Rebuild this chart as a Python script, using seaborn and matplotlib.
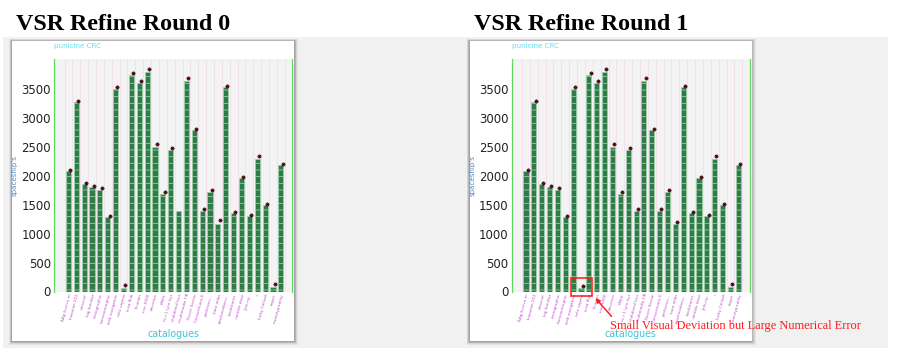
import numpy as np
import pandas as pd
import matplotlib
matplotlib.use("Agg")
import matplotlib.pyplot as plt
import seaborn as sns
from matplotlib.patches import Rectangle

# ---------------- data ----------------
categories = [
    "ΔΔg fvccvu m", "lnoanlan ΣΣΣ", "unavnel", "big familiar", "cartographic",
    "homeomorphic", "web navigation", "refu cepmo", "scxa flub", "illconan",
    "one 3000", "decortex", "plopy", "m-r 1 lyrn hyr", "clubdonal bus",
    "multimedia CA", "Dover Sector", "Consortiums E", "preferenc...", "bare atlas",
    "arachnoidocu...", "bookstores", "ramble dose", "Jerk-ny...", "*",
    "lucky Collusk", "rogue", "monotypicality",
]
round0_bars = [2087, 3280, 1862, 1805, 1759, 1286, 3505, 57, 3747, 3604,
               3804, 2502, 1695, 2445, 1395, 3643, 2788, 1395, 1724, 1176,
               3545, 1356, 1960, 1309, 2300, 1499, 81, 2186]
round0_dots = [2110, 3300, 1885, 1833, 1788, 1304, 3545, 116, 3787, 3643,
               3851, 2549, 1724, 2480, np.nan, 3695, 2810, 1425, 1753, 1234,
               3560, 1375, 1985, 1330, 2341, 1512, 128, 2200]
round1_bars = [2087, 3280, 1862, 1805, 1759, 1286, 3505, 57, 3747, 3604,
               3804, 2502, 1695, 2445, 1395, 3643, 2788, 1395, 1724, 1176,
               3545, 1356, 1960, 1309, 2300, 1499, 81, 2186]
round1_dots = [2110, 3300, 1885, 1833, 1788, 1304, 3545, 92, 3787, 3643,
               3851, 2549, 1724, 2480, 1420, 3695, 2810, 1425, 1753, 1210,
               3560, 1375, 1985, 1330, 2341, 1512, 128, 2200]
titles = ["VSR Refine Round 0", "VSR Refine Round 1"]
y_ticks = [0, 500, 1000, 1500, 2000, 2500, 3000, 3500]
annotation_text = "Small Visual Deviation but Large Numerical Error"

# ---------------- setup ----------------
W, H, DPI = 897, 362, 80
sns.set_theme(style="white")
plt.rcParams["font.family"] = ["DejaVu Sans"]
plt.rcParams["hatch.linewidth"] = 0.7

fig = plt.figure(figsize=(W / DPI, H / DPI), dpi=DPI)
fig.patch.set_facecolor("white")


def frect(x0, y0, x1, y1):
    return [x0 / W, 1 - y1 / H, (x1 - x0) / W, (y1 - y0) / H]


bg = fig.add_axes([0, 0, 1, 1])
bg.set_xlim(0, W)
bg.set_ylim(H, 0)
bg.axis("off")
bg.add_patch(Rectangle((3, 37), 885, 311, facecolor="#f1f1f1", lw=0))

panels = [(0.0, round0_bars, round0_dots), (457.5, round1_bars, round1_dots)]
n = len(categories)

for k, (dx, bars, dots) in enumerate(panels):
    # panel shadow + white card
    for s, a in [(5, 0.05), (4, 0.06), (3, 0.07), (2, 0.08), (1, 0.1)]:
        bg.add_patch(Rectangle((12 + dx - s * 0.6, 41 - s * 0.4), 282 + s * 1.4, 300 + s * 1.2,
                               facecolor="black", alpha=a, lw=0))
    bg.add_patch(Rectangle((12 + dx, 41), 282, 300, facecolor="white", lw=0))
    bg.text(16 + dx, 29.5, titles[k], fontfamily="Liberation Serif", fontweight="bold",
            fontsize=21.6, va="baseline", ha="left", color="black")

    ax = fig.add_axes(frect(54.3 + dx, 59, 292.3 + dx, 291.5))
    ax.set_facecolor("#f4f3f4")
    df = pd.DataFrame({"catalogues": categories, "value": bars})
    sns.barplot(data=df, x="catalogues", y="value", ax=ax, color="#2e7b47",
                saturation=1, width=0.65, hatch="--", edgecolor="#9fd3ad",
                linewidth=0.6, errorbar=None, zorder=2)
    pos = np.arange(n) + 0.22
    ax.scatter(pos, dots, s=9, color="#5e0d1d", edgecolors="#2a0008",
               linewidths=0.4, zorder=5)

    ax.set_xlim(-1.8, 28.46)
    ax.set_ylim(0, 4025)
    ax.set_yticks(y_ticks)
    ax.set_yticklabels([str(v) for v in y_ticks], fontsize=10.6, color="#222222")
    ax.set_xticks(range(n))
    ax.set_xticklabels(categories, rotation=75, ha="right", rotation_mode="anchor",
                       fontsize=3.7, color="#c24fd4")
    ax.tick_params(axis="both", length=0)
    ax.tick_params(axis="y", pad=3.0)
    ax.tick_params(axis="x", pad=1.5)

    ax.set_xticks(np.arange(-1, n) + 0.5, minor=True)
    ax.tick_params(axis="x", which="minor", length=0)
    ax.grid(True, axis="x", which="minor", color="#efd9ea", lw=0.6)
    ax.grid(False, axis="y")
    ax.set_axisbelow(True)

    for side in ["top", "bottom"]:
        ax.spines[side].set_visible(False)
    for side in ["left", "right"]:
        ax.spines[side].set_color("#5fd85f")
        ax.spines[side].set_linewidth(1.1)

    ax.set_ylabel("spaceship's", fontsize=6.4, color="#5b86c4")
    ax.yaxis.set_label_coords(-0.152, 0.5)
    ax.set_xlabel("catalogues", fontsize=8.6, color="#3cc6d6")
    ax.xaxis.label.set_va("center")
    ax.xaxis.set_label_coords(0.5, -0.183)
    ax.text(0.0, 1.056, "punicine CRC", transform=ax.transAxes, fontsize=6.4,
            color="#5ce1f0", ha="left", va="center")

# ---------------- annotation overlay ----------------
ov = fig.add_axes([0, 0, 1, 1])
ov.set_xlim(0, W)
ov.set_ylim(H, 0)
ov.axis("off")
ov.patch.set_alpha(0)
ov.add_patch(Rectangle((570.7, 277.7), 21, 18, fill=False, edgecolor="#ff1a1a", lw=1.4))
ov.annotate("", xy=(594, 296.5), xytext=(613, 318),
            arrowprops=dict(arrowstyle="-|>", color="#ff1a1a", lw=1.3, mutation_scale=8))
ov.text(610, 325.5, annotation_text, fontfamily="Liberation Serif", fontsize=11.2,
        color="#ff1a1a", va="center", ha="left")

fig.savefig("out.png", dpi=DPI)
